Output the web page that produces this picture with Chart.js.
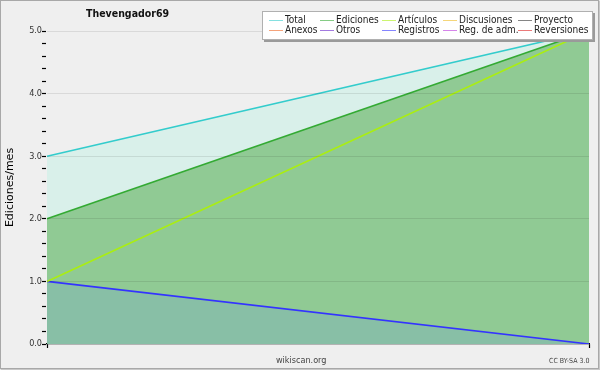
<!DOCTYPE html>
<html>
<head>
<meta charset="utf-8">
<script src="https://cdn.jsdelivr.net/npm/chart.js@4"></script>
<style>
  body { margin: 0; background: #fff; }
  #wrap { position: relative; width: 600px; height: 370px; background: #efefef; }
  #frame { position: absolute; left: 0; top: 0; width: 597px; height: 367px; border: 1px solid #a8a8a8;
           box-shadow: 1px 1px 1px #c8c8c8; pointer-events: none; }
  #title { position: absolute; left: 86px; top: 7px; font: bold 10.5px "DejaVu Sans Condensed"; color: #111; }
  #site { position: absolute; left: 276px; top: 355px; font: 9px "DejaVu Sans Condensed"; color: #444; }
  #lic { position: absolute; left: 549px; top: 357px; font: 7px "DejaVu Sans Condensed"; color: #444; }
  #legend { position: absolute; left: 262px; top: 11px; width: 329px; height: 27px; background: #fff;
            border: 1px solid #b0b0b0; box-shadow: 2px 2px 0 #9a9a9a; }
  .item { position: absolute; font: 10px "DejaVu Sans Condensed"; color: #222; white-space: nowrap; line-height: 10px; }
  .item span { display: inline-block; width: 14px; height: 1px; vertical-align: middle; margin-right: 2px; opacity: 0.6; }
</style>
</head>
<body>
<div id="wrap">
  <canvas id="chart" width="600" height="370"></canvas>
  <div id="title">Thevengador69</div>
  <div id="legend"></div>
  <div id="site">wikiscan.org</div>
  <div id="lic">CC BY-SA 3.0</div>
  <div id="frame"></div>
</div>
<script>
// two months, no x labels
const labels = ["", ""];
const seriesNames = ["Total", "Ediciones", "Artículos", "Discusiones", "Proyecto",
  "Anexos", "Otros", "Registros", "Reg. de adm.", "Reversiones"];
const seriesColors = ["#33cccc", "#33aa33", "#aaee11", "#eebb22", "#333333",
  "#ee6622", "#6622cc", "#3333ff", "#bb33dd", "#dd2222"];
const total = [3, 5];
const ediciones = [2, 5];
const articulos = [1, 5];
const registros = [1, 0];
const yTicks = [0, 1, 2, 3, 4, 5];

const seriesData = {
  "Total": total,
  "Ediciones": ediciones,
  "Artículos": articulos,
  "Registros": registros,
};
const fills = {
  "Total": { target: "+1", color: "#d9f0ea" },
  "Ediciones": { target: 7, color: "#90ca94" },
  "Registros": { target: "origin", color: "#88bfa6" },
};

const datasets = seriesNames.map(function (name, i) {
  const f = fills[name];
  return {
    label: name,
    data: seriesData[name] || [null, null],
    borderColor: seriesColors[i],
    backgroundColor: f ? f.color : "transparent",
    borderWidth: 1.6,
    pointRadius: 0,
    tension: 0,
    fill: f ? f.target : false,
  };
});

// legend box
const legend = document.getElementById("legend");
const colX = [6, 57, 119, 180, 255];
seriesNames.forEach(function (name, i) {
  const d = document.createElement("div");
  d.className = "item";
  d.style.left = colX[i % 5] + "px";
  d.style.top = (i < 5 ? 3 : 13) + "px";
  d.innerHTML = '<span style="background:' + seriesColors[i] + '"></span>' + name;
  legend.appendChild(d);
});

const isMajor = (v) => Math.abs(v - Math.round(v)) < 1e-6;

const ctx = document.getElementById("chart").getContext("2d");
const myChart = new Chart(ctx, {
  type: "line",
  data: { labels: labels, datasets: datasets },
  options: {
    responsive: false,
    animation: false,
    layout: { padding: { top: 31, right: 11, left: 0, bottom: 0 } },
    plugins: {
      legend: { display: false },
      tooltip: { enabled: false },
      filler: { propagate: false, drawTime: "beforeDatasetsDraw" },
    },
    scales: {
      x: {
        offset: false,
        ticks: { display: false },
        grid: { drawOnChartArea: false, tickLength: 4, tickColor: "#000", tickWidth: 1.2 },
        border: { color: "#000", width: 1.2 },
        afterFit: (scale) => { scale.height = 26; },
      },
      y: {
        min: 0,
        max: 5,
        afterBuildTicks: (scale) => {
          const t = [];
          for (let k = 0; k <= 25; k++) t.push({ value: k / 5 });
          scale.ticks = t;
        },
        ticks: {
          autoSkip: false,
          padding: 0,
          color: "#333",
          font: { family: "DejaVu Sans Condensed", size: 9 },
          callback: (v) => (isMajor(v) && yTicks.includes(Math.round(v)) ? Number(v).toFixed(1) : ""),
        },
        grid: {
          z: 1,
          tickLength: 5,
          tickColor: "#000",
          tickWidth: 1.2,
          color: (c) => (c.tick && isMajor(c.tick.value) && c.tick.value > 0 ? "rgba(0,0,0,0.09)" : "transparent"),
        },
        border: { color: "#000", width: 1.2 },
        title: {
          display: true,
          text: "Ediciones/mes",
          color: "#000",
          font: { family: "DejaVu Sans", size: 11 },
          padding: { top: 4, bottom: 0 },
        },
        afterFit: (scale) => { scale.width = 47; },
      },
    },
  },
});
</script>
</body>
</html>
